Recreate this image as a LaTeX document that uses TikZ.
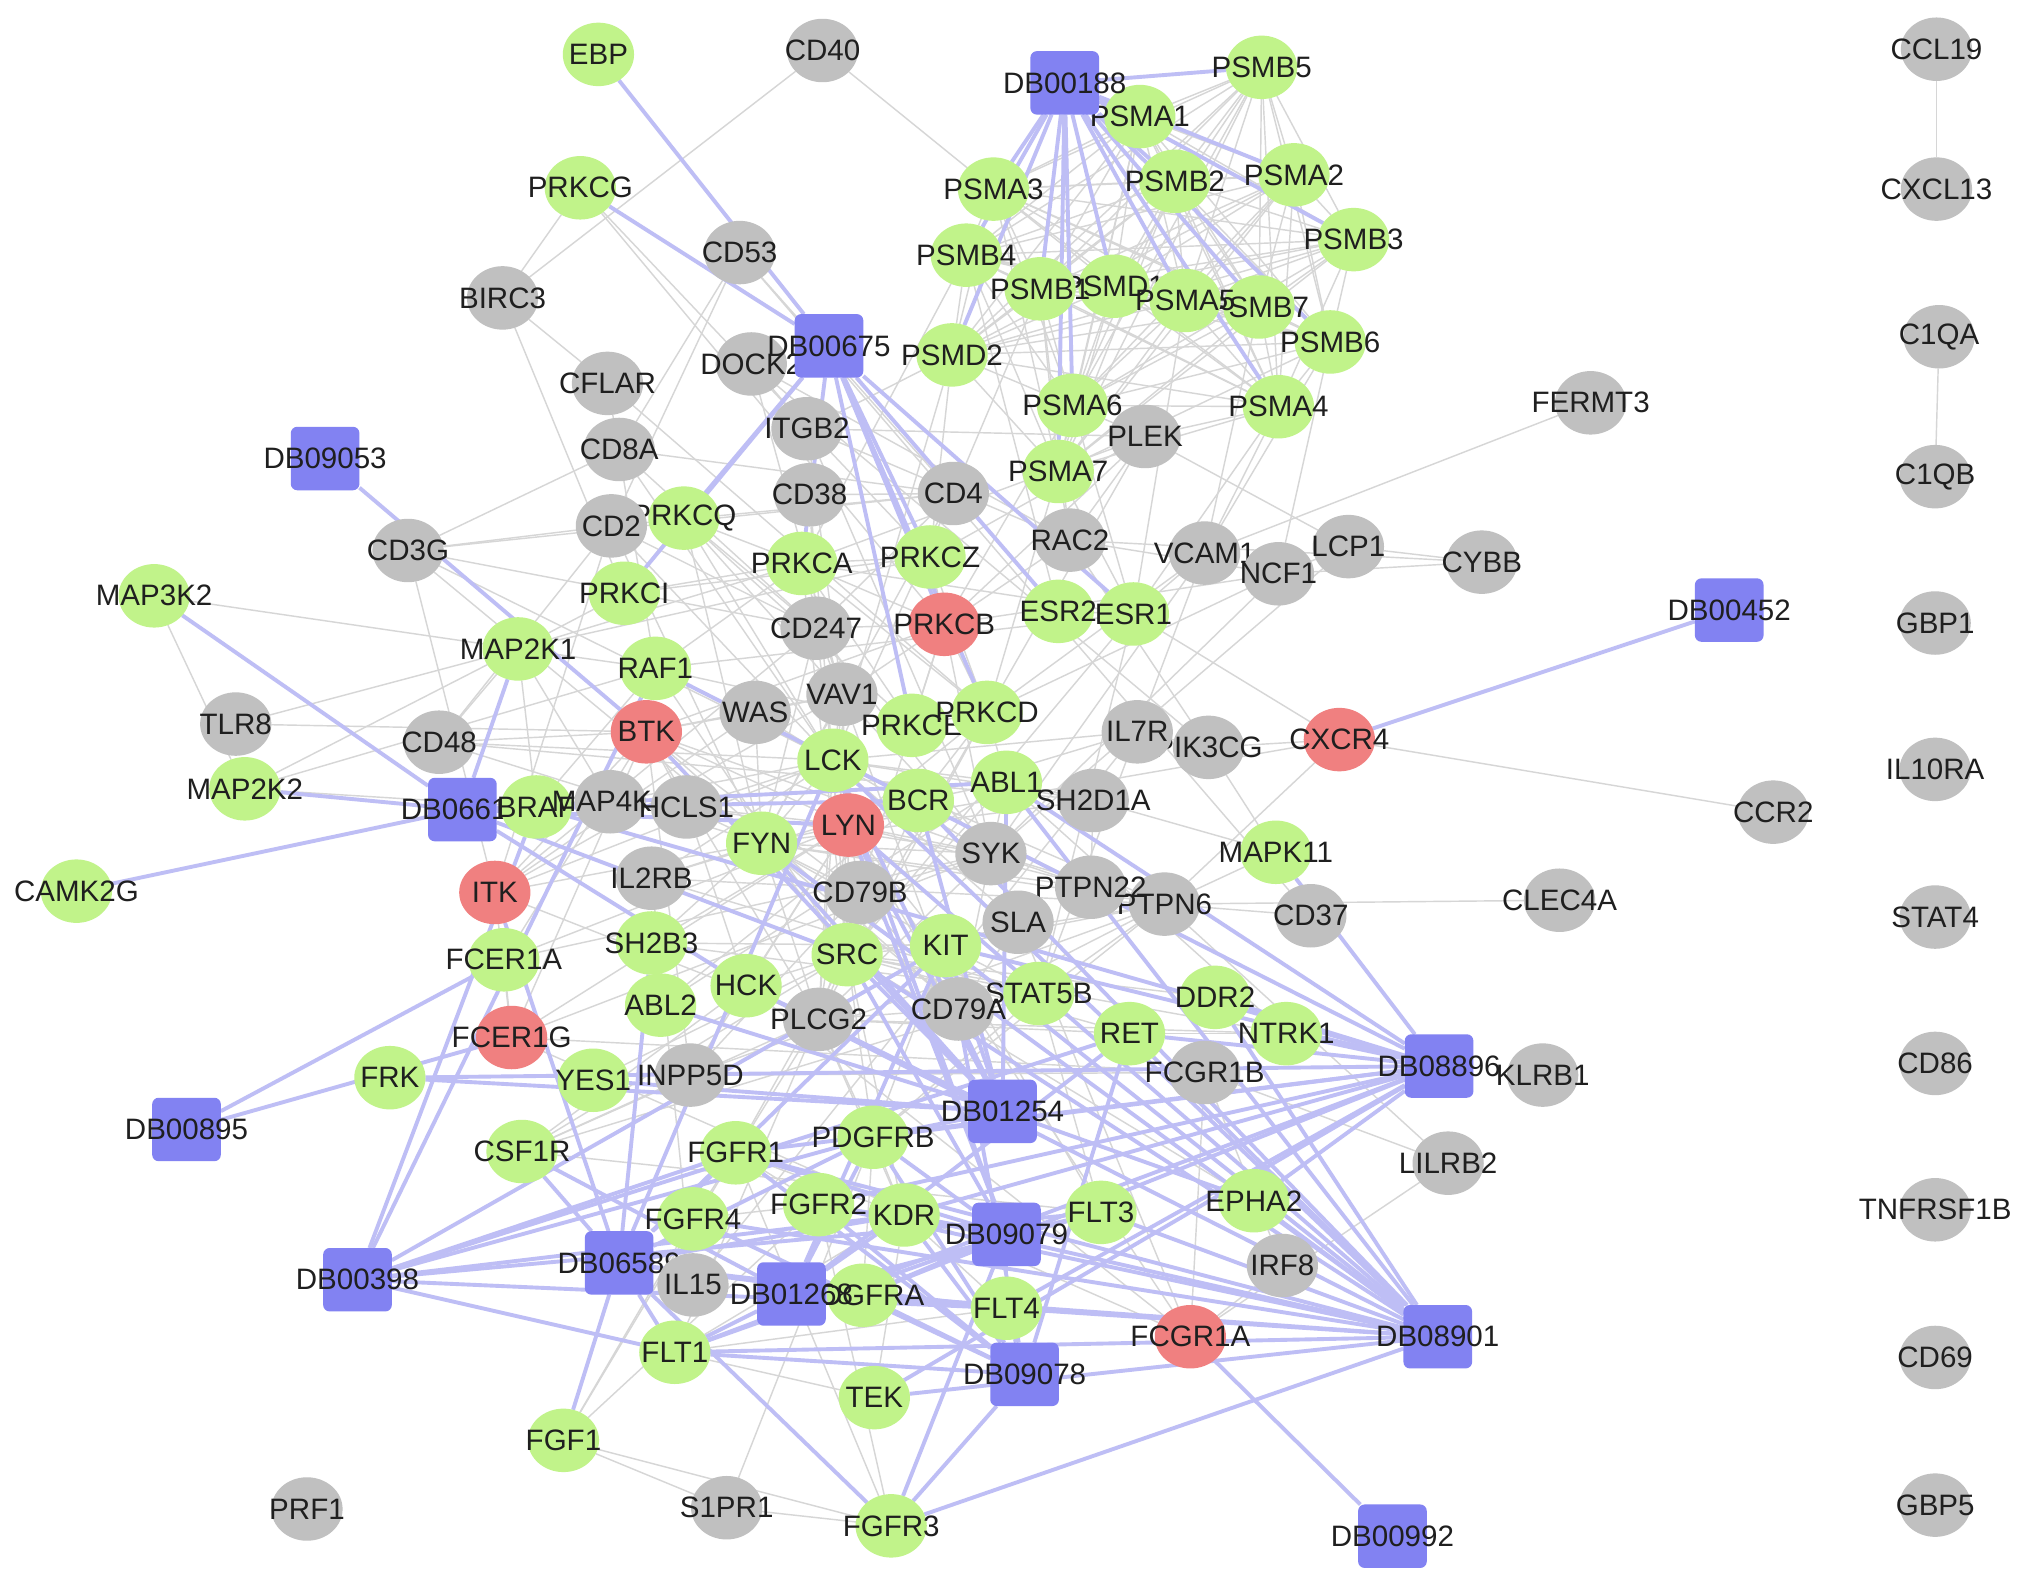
\documentclass[tikz,border=0pt]{standalone}
\usepackage{fontspec}
\setmainfont{Liberation Sans}
\usetikzlibrary{shapes.geometric,backgrounds}
\definecolor{ngreen}{RGB}{193,243,138}
\definecolor{ngray}{RGB}{192,192,192}
\definecolor{nred}{RGB}{240,128,128}
\definecolor{nblue}{RGB}{130,130,242}
\definecolor{eblue}{RGB}{190,190,245}
\definecolor{egray}{RGB}{214,214,214}
\newcommand{\mknode}[5]{\node[#1] (#2) at (#3,#4) {\makebox[0pt]{#5}};}
\begin{document}
\begin{tikzpicture}[x=0.5pt,y=-0.5pt,
  nd/.style={ellipse,minimum width=27.5pt,minimum height=24.5pt,inner sep=0pt,outer sep=0pt,font=\fontsize{11.4}{13}\selectfont,text=black!88},
  gn/.style={nd,fill=ngreen},
  gy/.style={nd,fill=ngray},
  rd/.style={nd,fill=nred},
  db/.style={rectangle,rounded corners=2.5pt,minimum width=26.5pt,minimum height=24.5pt,inner sep=0pt,outer sep=0pt,fill=nblue,font=\fontsize{11.4}{13}\selectfont,text=black!88},
  ge/.style={draw=egray,line width=0.55pt},
  be/.style={draw=eblue,line width=1.5pt}]
\useasboundingbox (0,0) rectangle (1568,1224);
% right column
\mknode{gy}{CCL19}{1495}{38}{CCL19}
\mknode{gy}{CXCL13}{1495}{146}{CXCL13}
\mknode{gy}{C1QA}{1497}{260}{C1QA}
\mknode{gy}{C1QB}{1494}{368}{C1QB}
\mknode{gy}{GBP1}{1494}{481}{GBP1}
\mknode{gy}{IL10RA}{1494}{594}{IL10RA}
\mknode{gy}{STAT4}{1494}{708}{STAT4}
\mknode{gy}{CD86}{1494}{821}{CD86}
\mknode{gy}{TNFRSF1B}{1494}{934}{TNFRSF1B}
\mknode{gy}{CD69}{1494}{1048}{CD69}
\mknode{gy}{GBP5}{1494}{1162}{GBP5}
% main network
\mknode{gn}{EBP}{462}{42}{EBP}
\mknode{gy}{CD40}{635}{39}{CD40}
\mknode{gn}{PSMB5}{974}{52}{PSMB5}
\mknode{gn}{PSMA1}{880}{90}{PSMA1}
\mknode{db}{DB00188}{822}{64}{DB00188}
\mknode{gn}{PRKCG}{448}{145}{PRKCG}
\mknode{gn}{PSMA3}{767}{146}{PSMA3}
\mknode{gn}{PSMB2}{907}{140}{PSMB2}
\mknode{gn}{PSMA2}{999}{135}{PSMA2}
\mknode{gn}{PSMB3}{1045}{185}{PSMB3}
\mknode{gy}{CD53}{571}{195}{CD53}
\mknode{gy}{BIRC3}{388}{230}{BIRC3}
\mknode{gn}{PSMB4}{746}{197}{PSMB4}
\mknode{gn}{PSMD1}{860}{221}{PSMD1}
\mknode{gn}{PSMB1}{803}{223}{PSMB1}
\mknode{gn}{PSMB7}{972}{237}{PSMB7}
\mknode{gn}{PSMA5}{915}{232}{PSMA5}
\mknode{gn}{PSMB6}{1027}{264}{PSMB6}
\mknode{gy}{DOCK2}{580}{281}{DOCK2}
\mknode{db}{DB00675}{640}{267}{DB00675}
\mknode{gy}{CFLAR}{469}{296}{CFLAR}
\mknode{gn}{PSMD2}{735}{274}{PSMD2}
\mknode{gn}{PSMA6}{828}{313}{PSMA6}
\mknode{gn}{PSMA4}{987}{314}{PSMA4}
\mknode{gy}{FERMT3}{1228}{311}{FERMT3}
\mknode{gy}{ITGB2}{623}{331}{ITGB2}
\mknode{gy}{PLEK}{884}{337}{PLEK}
\mknode{gy}{CD8A}{478}{347}{CD8A}
\mknode{db}{DB09053}{251}{354}{DB09053}
\mknode{gn}{PSMA7}{817}{364}{PSMA7}
\mknode{gy}{CD38}{625}{382}{CD38}
\mknode{gy}{CD4}{736}{381}{CD4}
\mknode{gn}{PRKCQ}{528}{400}{PRKCQ}
\mknode{gy}{CD2}{472}{406}{CD2}
\mknode{gy}{CD3G}{315}{425}{CD3G}
\mknode{gy}{RAC2}{826}{417}{RAC2}
\mknode{gy}{VCAM1}{930}{427}{VCAM1}
\mknode{gy}{NCF1}{987}{443}{NCF1}
\mknode{gy}{LCP1}{1041}{422}{LCP1}
\mknode{gy}{CYBB}{1144}{434}{CYBB}
\mknode{gn}{MAP3K2}{119}{460}{MAP3K2}
\mknode{gn}{PRKCA}{619}{435}{PRKCA}
\mknode{gn}{PRKCZ}{718}{430}{PRKCZ}
\mknode{gn}{PRKCI}{482}{458}{PRKCI}
\mknode{gy}{CD247}{630}{485}{CD247}
\mknode{rd}{PRKCB}{729}{482}{PRKCB}
\mknode{gn}{ESR2}{817}{472}{ESR2}
\mknode{gn}{ESR1}{875}{474}{ESR1}
\mknode{db}{DB00452}{1335}{471}{DB00452}
\mknode{gn}{MAP2K1}{400}{501}{MAP2K1}
\mknode{gn}{RAF1}{506}{516}{RAF1}
\mknode{gy}{WAS}{583}{550}{WAS}
\mknode{gy}{VAV1}{650}{536}{VAV1}
\mknode{gn}{PRKCE}{704}{560}{PRKCE}
\mknode{gn}{PRKCD}{762}{550}{PRKCD}
\mknode{gy}{PIK3CG}{933}{577}{PIK3CG}
\mknode{gy}{IL7R}{878}{565}{IL7R}
\mknode{rd}{CXCR4}{1034}{571}{CXCR4}
\mknode{gy}{TLR8}{182}{559}{TLR8}
\mknode{gy}{CD48}{339}{573}{CD48}
\mknode{rd}{BTK}{499}{565}{BTK}
\mknode{gn}{LCK}{643}{587}{LCK}
\mknode{gn}{ABL1}{777}{604}{ABL1}
\mknode{gy}{SH2D1A}{844}{618}{SH2D1A}
\mknode{gn}{BCR}{709}{618}{BCR}
\mknode{rd}{LYN}{655}{637}{LYN}
\mknode{gn}{MAP2K2}{189}{609}{MAP2K2}
\mknode{db}{DB06616}{357}{625}{DB06616}
\mknode{gn}{BRAF}{414}{623}{BRAF}
\mknode{gy}{MAP4K1}{471}{619}{MAP4K1}
\mknode{gy}{HCLS1}{530}{623}{HCLS1}
\mknode{gn}{FYN}{588}{651}{FYN}
\mknode{gy}{SYK}{765}{659}{SYK}
\mknode{gy}{CCR2}{1369}{627}{CCR2}
\mknode{gn}{MAPK11}{985}{658}{MAPK11}
\mknode{gn}{CAMK2G}{59}{688}{CAMK2G}
\mknode{rd}{ITK}{382}{689}{ITK}
\mknode{gy}{IL2RB}{503}{678}{IL2RB}
\mknode{gy}{CD79B}{664}{689}{CD79B}
\mknode{gy}{PTPN6}{899}{698}{PTPN6}
\mknode{gy}{PTPN22}{842}{685}{PTPN22}
\mknode{gy}{CD37}{1012}{707}{CD37}
\mknode{gy}{CLEC4A}{1204}{695}{CLEC4A}
\mknode{gy}{SLA}{786}{712}{SLA}
\mknode{gn}{FCER1A}{389}{741}{FCER1A}
\mknode{gn}{SH2B3}{503}{728}{SH2B3}
\mknode{gn}{SRC}{654}{737}{SRC}
\mknode{gn}{KIT}{730}{730}{KIT}
\mknode{gn}{HCK}{576}{761}{HCK}
\mknode{gn}{STAT5B}{802}{767}{STAT5B}
\mknode{gy}{CD79A}{740}{779}{CD79A}
\mknode{gn}{ABL2}{510}{776}{ABL2}
\mknode{gy}{PLCG2}{632}{787}{PLCG2}
\mknode{gn}{DDR2}{938}{770}{DDR2}
\mknode{gn}{RET}{872}{798}{RET}
\mknode{gn}{NTRK1}{993}{798}{NTRK1}
\mknode{rd}{FCER1G}{395}{801}{FCER1G}
\mknode{gn}{FRK}{301}{832}{FRK}
\mknode{gn}{YES1}{458}{834}{YES1}
\mknode{gy}{INPP5D}{533}{830}{INPP5D}
\mknode{gy}{FCGR1B}{930}{828}{FCGR1B}
\mknode{db}{DB08896}{1111}{823}{DB08896}
\mknode{gy}{KLRB1}{1191}{830}{KLRB1}
\mknode{db}{DB01254}{774}{858}{DB01254}
\mknode{db}{DB00895}{144}{872}{DB00895}
\mknode{gn}{CSF1R}{403}{889}{CSF1R}
\mknode{gn}{FGFR1}{568}{890}{FGFR1}
\mknode{gn}{PDGFRB}{674}{878}{PDGFRB}
\mknode{gy}{LILRB2}{1118}{898}{LILRB2}
\mknode{gn}{FGFR4}{535}{941}{FGFR4}
\mknode{gn}{FGFR2}{632}{930}{FGFR2}
\mknode{gn}{KDR}{698}{938}{KDR}
\mknode{db}{DB09079}{777}{953}{DB09079}
\mknode{gn}{FLT3}{850}{936}{FLT3}
\mknode{gn}{EPHA2}{968}{927}{EPHA2}
\mknode{db}{DB00398}{276}{988}{DB00398}
\mknode{db}{DB06589}{478}{975}{DB06589}
\mknode{gy}{IL15}{535}{992}{IL15}
\mknode{gn}{PDGFRA}{666}{1000}{PDGFRA}
\mknode{db}{DB01268}{611}{999}{DB01268}
\mknode{gn}{FLT4}{777}{1010}{FLT4}
\mknode{gy}{IRF8}{990}{977}{IRF8}
\mknode{rd}{FCGR1A}{919}{1032}{FCGR1A}
\mknode{db}{DB08901}{1110}{1032}{DB08901}
\mknode{gn}{FLT1}{521}{1044}{FLT1}
\mknode{db}{DB09078}{791}{1061}{DB09078}
\mknode{gn}{TEK}{675}{1079}{TEK}
\mknode{gn}{FGF1}{435}{1112}{FGF1}
\mknode{gy}{PRF1}{237}{1165}{PRF1}
\mknode{gy}{S1PR1}{561}{1164}{S1PR1}
\mknode{gn}{FGFR3}{688}{1178}{FGFR3}
\mknode{db}{DB00992}{1075}{1186}{DB00992}

\begin{pgfonlayer}{background}
\fill[white] (0,0) rectangle (1568,1224);
% proteasome cluster
\foreach \a [count=\i] in {PSMB5,PSMA1,PSMA3,PSMB2,PSMA2,PSMB3,PSMB4,PSMB1,PSMD1,PSMA5,PSMB7,PSMB6,PSMD2,PSMA6,PSMA4,PSMA7}{
  \foreach \b [count=\j] in {PSMB5,PSMA1,PSMA3,PSMB2,PSMA2,PSMB3,PSMB4,PSMB1,PSMD1,PSMA5,PSMB7,PSMB6,PSMD2,PSMA6,PSMA4,PSMA7}{
    \ifnum\j>\i \draw[ge] (\a) -- (\b); \fi }}
% other interactions
\foreach \a/\b in {CCL19/CXCL13,C1QA/C1QB,CD40/BIRC3,CD40/PSMA3,PRKCG/BIRC3,PRKCG/PRKCB,PRKCG/PRKCZ,BIRC3/PRKCI,BIRC3/CFLAR,CFLAR/RAF1,CFLAR/PRKCD,
CD53/CD2,CD53/CD8A,CD53/CD37,CD53/CD4,DOCK2/RAC2,DOCK2/VAV1,DOCK2/PIK3CG,DOCK2/ITGB2,
CD8A/LCK,CD8A/CD4,CD8A/CD3G,CD8A/CD247,CD2/LCK,CD2/FYN,CD2/CD48,CD2/CD247,CD2/CD3G,CD2/CD4,
CD3G/CD247,CD3G/LCK,CD3G/FYN,CD3G/CD4,CD3G/ITK,CD4/LCK,CD4/CD38,CD4/CD247,CD4/FYN,CD38/LCK,CD38/CD247,
FERMT3/VCAM1,ITGB2/RAC2,ITGB2/SYK,ITGB2/VAV1,ITGB2/PLEK,RAC2/NCF1,RAC2/CYBB,RAC2/VAV1,RAC2/PIK3CG,RAC2/PLEK,
NCF1/CYBB,NCF1/LCP1,LCP1/CYBB,NCF1/PRKCD,NCF1/PRKCB,NCF1/SYK,VCAM1/PRKCD,VCAM1/ESR1,VCAM1/SYK,VCAM1/IL7R,LCP1/PLEK,LCP1/SYK,
PLEK/PRKCB,PLEK/PRKCD,PLEK/PRKCA,PLEK/PRKCZ,
PSMA7/ESR1,PSMA6/ESR1,PSMB4/ESR2,PSMA4/VCAM1,PSMD2/PRKCZ,PSMA5/ESR1,PSMB6/NCF1,PSMB7/VCAM1,PSMA4/ESR1,PSMA6/PRKCB,PSMA7/PRKCD,PSMD2/LCK,PSMB4/PRKCA,PSMB1/CD4,PSMA6/PLEK,PSMA7/RAC2,PSMB6/VCAM1,PSMA4/PLEK,PSMD2/ITGB2,PSMB1/RAC2,
PRKCA/PRKCB,PRKCA/PRKCD,PRKCA/PRKCZ,PRKCA/PRKCE,PRKCA/PRKCI,PRKCA/PRKCQ,PRKCB/PRKCD,PRKCB/PRKCZ,PRKCB/PRKCE,PRKCD/PRKCE,PRKCZ/PRKCI,PRKCQ/PRKCE,
PRKCQ/VAV1,PRKCQ/LCK,PRKCQ/CD247,PRKCQ/FYN,PRKCA/RAF1,PRKCE/RAF1,PRKCB/BTK,PRKCD/LYN,PRKCD/PLCG2,PRKCD/ABL1,PRKCA/ESR1,PRKCZ/MAP2K1,PRKCI/MAP2K1,
PRKCA/MAP2K1,PRKCD/BCR,PRKCB/SYK,PRKCB/PLCG2,PRKCD/SRC,PRKCA/SRC,PRKCI/PRKCQ,PRKCZ/PRKCD,PRKCA/VAV1,PRKCB/CD247,
RAF1/BRAF,RAF1/MAP2K1,RAF1/MAP2K2,RAF1/SRC,RAF1/ESR1,BRAF/MAP2K1,BRAF/MAP2K2,MAP2K1/MAP3K2,MAP2K1/MAP2K2,MAP2K2/MAP3K2,MAP2K1/MAP4K1,
TLR8/BTK,TLR8/MAP2K1,CD48/LCK,CD48/FYN,CD48/SH2D1A,CD48/BTK,CD48/MAP2K1,
LCK/CD247,LCK/ITK,LCK/VAV1,LCK/FYN,LCK/PTPN22,LCK/PTPN6,LCK/SH2D1A,LCK/IL2RB,LCK/SLA,LCK/HCLS1,LCK/PLCG2,LCK/SYK,LCK/LYN,LCK/SRC,LCK/WAS,LCK/ABL1,LCK/IL7R,LCK/MAP4K1,
FYN/CD247,FYN/SH2D1A,FYN/VAV1,FYN/PTPN22,FYN/SYK,FYN/PLCG2,FYN/WAS,FYN/ITK,FYN/IL2RB,FYN/CD79A,FYN/CD79B,FYN/SRC,FYN/LYN,FYN/PTPN6,FYN/HCLS1,
LYN/CD79A,LYN/CD79B,LYN/SYK,LYN/BTK,LYN/PLCG2,LYN/FCER1G,LYN/FCER1A,LYN/INPP5D,LYN/PTPN6,LYN/HCLS1,LYN/VAV1,LYN/SRC,LYN/HCK,LYN/FCGR1A,LYN/KIT,LYN/CXCR4,
SYK/CD79A,SYK/CD79B,SYK/FCER1G,SYK/BTK,SYK/PLCG2,SYK/VAV1,SYK/HCLS1,SYK/PTPN6,SYK/CD247,SYK/FCGR1A,SYK/SLA,SYK/FCER1A,SYK/PTPN22,
BTK/PLCG2,BTK/VAV1,BTK/WAS,BTK/CD79A,BTK/CD79B,BTK/FCER1G,BTK/INPP5D,BTK/HCLS1,BTK/ITK,BTK/FCER1A,
ITK/PLCG2,ITK/CD247,ITK/VAV1,ITK/WAS,ITK/CD2,VAV1/WAS,VAV1/PLCG2,VAV1/CD247,VAV1/CD79A,HCLS1/HCK,
SRC/ESR1,SRC/PDGFRB,SRC/KIT,SRC/EPHA2,SRC/FGFR1,SRC/CSF1R,SRC/KDR,SRC/STAT5B,SRC/ABL1,SRC/BCR,SRC/YES1,SRC/PTPN6,SRC/HCK,SRC/VAV1,SRC/PLCG2,SRC/DDR2,SRC/NTRK1,SRC/RET,
ABL1/BCR,ABL1/ABL2,ABL1/SH2D1A,ABL1/NTRK1,ABL1/SYK,BCR/ABL2,
STAT5B/KIT,STAT5B/IL2RB,STAT5B/IL7R,STAT5B/PDGFRB,STAT5B/CSF1R,STAT5B/FLT3,STAT5B/PTPN6,STAT5B/ESR1,STAT5B/SH2B3,
KIT/PTPN6,KIT/SH2B3,KIT/FYN,KIT/PLCG2,KIT/PDGFRB,SH2B3/LYN,SH2B3/FYN,CSF1R/HCK,CSF1R/PLCG2,CSF1R/INPP5D,
PDGFRB/PDGFRA,PDGFRB/KDR,PDGFRB/PLCG2,PDGFRB/PTPN6,PDGFRB/S1PR1,FGFR1/FGFR2,FGFR1/FGFR3,FGFR1/FGFR4,FGFR1/FGF1,FGFR1/PLCG2,FGFR1/KDR,
FGFR2/FGFR3,FGFR2/FGF1,FGFR2/FGFR4,FGFR3/FGF1,FGFR4/FGF1,KDR/FLT1,KDR/FLT4,KDR/PLCG2,KDR/TEK,FLT1/FLT4,FLT1/PLCG2,TEK/FLT1,FLT3/KIT,FLT3/CSF1R,
RET/NTRK1,RET/PLCG2,NTRK1/PLCG2,FCER1A/FCER1G,FCER1G/FCGR1A,FCER1G/FCGR1B,FCER1G/ITK,FCGR1A/FCGR1B,FCGR1A/HCK,FCGR1A/IRF8,FCGR1A/LILRB2,
INPP5D/PTPN6,INPP5D/CD79B,INPP5D/FCGR1B,PTPN6/CD79A,PTPN6/CD37,PTPN6/CLEC4A,PTPN6/PTPN22,PTPN6/LILRB2,PTPN6/IL2RB,CD79A/CD79B,
IL7R/IL2RB,IL7R/PIK3CG,IL2RB/IL15,PIK3CG/CXCR4,ESR1/ESR2,ESR1/CXCR4,CXCR4/CCR2,CXCR4/PTPN6,MAPK11/PIK3CG,MAPK11/SH2D1A,MAPK11/PTPN6,
IRF8/FCGR1B,LILRB2/FCGR1B,S1PR1/FGF1,S1PR1/FGFR3,IL15/IL7R,SH2D1A/PTPN22,SLA/CD79A,PLCG2/CD79A}
  \draw[ge] (\a) -- (\b);
% drug-target links
\foreach \t in {PSMB5,PSMA1,PSMA3,PSMB2,PSMA2,PSMB3,PSMB4,PSMB1,PSMD1,PSMA5,PSMB7,PSMB6,PSMD2,PSMA6,PSMA4,PSMA7} \draw[be] (DB00188) -- (\t);
\foreach \t in {EBP,PRKCG,PRKCQ,PRKCI,PRKCA,PRKCZ,PRKCB,PRKCD,PRKCE,ESR1,ESR2} \draw[be] (DB00675) -- (\t);
\draw[be] (DB09053) -- (BTK);
\foreach \t in {CAMK2G,MAP2K2,MAP3K2,MAP2K1,SRC,HCK,LYN,ABL1,BCR} \draw[be] (DB06616) -- (\t);
\draw[be] (DB00452) -- (CXCR4);
\foreach \t in {FCER1A,FCER1G} \draw[be] (DB00895) -- (\t);
\draw[be] (DB00992) -- (FCGR1A);
\foreach \t in {BRAF,RAF1,KIT,FGFR1,PDGFRB,RET,FLT3,KDR,FLT4,FLT1} \draw[be] (DB00398) -- (\t);
\foreach \t in {FLT1,FLT4,KDR,PDGFRA,PDGFRB,KIT,FGFR1,FGFR3,ITK,LCK,CSF1R,SH2B3,FGF1} \draw[be] (DB06589) -- (\t);
\foreach \t in {PDGFRA,PDGFRB,KIT,FLT3,KDR,FLT1,FLT4,CSF1R,RET} \draw[be] (DB01268) -- (\t);
\foreach \t in {ABL1,BCR,SRC,LCK,YES1,FYN,LYN,HCK,KIT,PDGFRB,EPHA2,FRK,BTK,ABL2} \draw[be] (DB01254) -- (\t);
\foreach \t in {FGFR1,FGFR2,FGFR3,FLT3,KDR,FLT1,FLT4,PDGFRA,PDGFRB,LCK,LYN,SRC} \draw[be] (DB09079) -- (\t);
\foreach \t in {FGFR1,FGFR2,FGFR3,FGFR4,KDR,FLT1,FLT4,PDGFRA,PDGFRB,KIT,RET} \draw[be] (DB09078) -- (\t);
\foreach \t in {KIT,RET,BRAF,RAF1,FLT1,KDR,FLT4,PDGFRA,PDGFRB,FGFR1,FGFR2,TEK,DDR2,NTRK1,EPHA2,ABL1,MAPK11,FRK} \draw[be] (DB08896) -- (\t);
\foreach \t in {ABL1,BCR,KIT,RET,TEK,FLT3,FGFR1,FGFR2,FGFR3,FGFR4,PDGFRA,KDR,SRC,LYN,LCK,HCK,FYN,EPHA2,DDR2,FLT1,FLT4} \draw[be] (DB08901) -- (\t);
\end{pgfonlayer}
\end{tikzpicture}
\end{document}
